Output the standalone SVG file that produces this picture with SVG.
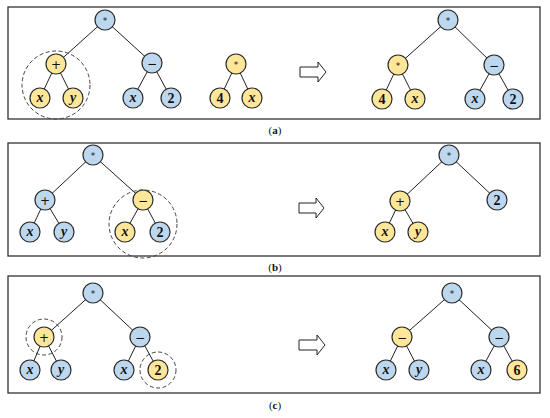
<svg xmlns="http://www.w3.org/2000/svg" width="550" height="418" viewBox="0 0 550 418">
<defs>
<style>
.box{fill:#fff;stroke:#333;stroke-width:1.3}
.e{stroke:#222;stroke-width:1;fill:none}
.b{fill:#BDD7EE;stroke:#2b2b2b;stroke-width:1.2}
.y{fill:#FFE699;stroke:#2b2b2b;stroke-width:1.2}
.d{fill:none;stroke:#444;stroke-width:1;stroke-dasharray:4 2.5}
text{font-family:"Liberation Serif","DejaVu Serif",serif;font-weight:bold;text-anchor:middle;fill:#111}
.v{font-style:italic;font-size:14px}
.n{font-size:14px}
.op{font-family:"DejaVu Sans","Liberation Sans",sans-serif;font-weight:normal;font-size:12px}
.st{font-family:"DejaVu Sans","Liberation Sans",sans-serif;font-weight:normal;font-size:9px}
.cap{font-size:11px}
.cap tspan{font-weight:normal}
.arr{fill:#fff;stroke:#222;stroke-width:1}
</style>
</defs>
<rect class="box" x="8" y="7" width="532" height="112"/>
<rect class="box" x="8" y="143" width="532" height="113"/>
<rect class="box" x="8" y="276" width="532" height="117"/>
<g id="connectors">
<path class="e" d="M105 20L56 64M105 20L152 63M56 64L40 98M56 64L73 98M152 63L133 98M152 63L171 98M236 64L220 98M236 64L252 98"/>
<path class="e" d="M448 20L398 65M448 20L494 65M398 65L382 99M398 65L415 99M494 65L475 99M494 65L513 99"/>
<path class="e" d="M93 155L45 200M93 155L143 200M45 200L30 232M45 200L64 232M143 200L125 232M143 200L160 232"/>
<path class="e" d="M449 155L400 201M449 155L497 200M400 201L385 232M400 201L418 232"/>
<path class="e" d="M93 293L44 337M93 293L140 337M44 337L30 370M44 337L61 370M140 337L124 370M140 337L158 370"/>
<path class="e" d="M452 293L402 337M452 293L499 337M402 337L386 370M402 337L419 370M499 337L481 370M499 337L517 370"/>
</g>
<g id="arrows">
<path class="arr" d="M300 67H318V62L326 72L318 82V77H300Z"/>
<path class="arr" d="M299 203H316V198L324 208L316 218V213H299Z"/>
<path class="arr" d="M299 340H317V335L325 345L317 355V350H299Z"/>
</g>
<g id="a-left">
<g id="a1"><circle class="b" cx="105" cy="20" r="10"/><text class="st" x="105" y="24">*</text></g>
<g id="a2"><circle class="y" cx="56" cy="64" r="10"/><text class="op" x="56" y="68.5">+</text></g>
<g id="a3"><circle class="y" cx="40" cy="98" r="10"/><text class="v" x="40" y="102">x</text></g>
<g id="a4"><circle class="y" cx="73" cy="98" r="10"/><text class="v" x="73" y="102">y</text></g>
<g id="a5"><circle class="b" cx="152" cy="63" r="10"/><text class="op" x="152" y="67.5">−</text></g>
<g id="a6"><circle class="b" cx="133" cy="98" r="10"/><text class="v" x="133" y="102">x</text></g>
<g id="a7"><circle class="b" cx="171" cy="98" r="10"/><text class="n" x="171" y="103">2</text></g>
<g id="a8"><circle class="y" cx="236" cy="64" r="10"/><text class="st" x="236" y="68">*</text></g>
<g id="a9"><circle class="y" cx="220" cy="98" r="10"/><text class="n" x="220" y="103">4</text></g>
<g id="a10"><circle class="y" cx="252" cy="98" r="10"/><text class="v" x="252" y="102">x</text></g>
<circle class="d" cx="56" cy="85" r="34"/>
</g>
<g id="a-right">
<g id="a11"><circle class="b" cx="448" cy="20" r="10"/><text class="st" x="448" y="24">*</text></g>
<g id="a12"><circle class="y" cx="398" cy="65" r="10"/><text class="st" x="398" y="69">*</text></g>
<g id="a13"><circle class="b" cx="494" cy="65" r="10"/><text class="op" x="494" y="69.5">−</text></g>
<g id="a14"><circle class="y" cx="382" cy="99" r="10"/><text class="n" x="382" y="104">4</text></g>
<g id="a15"><circle class="y" cx="415" cy="99" r="10"/><text class="v" x="415" y="103">x</text></g>
<g id="a16"><circle class="b" cx="475" cy="99" r="10"/><text class="v" x="475" y="103">x</text></g>
<g id="a17"><circle class="b" cx="513" cy="99" r="10"/><text class="n" x="513" y="104">2</text></g>
</g>
<g id="b-left">
<g id="b1"><circle class="b" cx="93" cy="155" r="10"/><text class="st" x="93" y="159">*</text></g>
<g id="b2"><circle class="b" cx="45" cy="200" r="10"/><text class="op" x="45" y="204.5">+</text></g>
<g id="b3"><circle class="b" cx="30" cy="232" r="10"/><text class="v" x="30" y="236">x</text></g>
<g id="b4"><circle class="b" cx="64" cy="232" r="10"/><text class="v" x="64" y="236">y</text></g>
<g id="b5"><circle class="y" cx="143" cy="200" r="10"/><text class="op" x="143" y="204.5">−</text></g>
<g id="b6"><circle class="y" cx="125" cy="232" r="10"/><text class="v" x="125" y="236">x</text></g>
<g id="b7"><circle class="b" cx="160" cy="232" r="10"/><text class="n" x="160" y="237">2</text></g>
<circle class="d" cx="143" cy="224" r="34"/>
</g>
<g id="b-right">
<g id="b8"><circle class="b" cx="449" cy="155" r="10"/><text class="st" x="449" y="159">*</text></g>
<g id="b9"><circle class="y" cx="400" cy="201" r="10"/><text class="op" x="400" y="205.5">+</text></g>
<g id="b10"><circle class="b" cx="497" cy="200" r="10"/><text class="n" x="497" y="205">2</text></g>
<g id="b11"><circle class="y" cx="385" cy="232" r="10"/><text class="v" x="385" y="236">x</text></g>
<g id="b12"><circle class="y" cx="418" cy="232" r="10"/><text class="v" x="418" y="236">y</text></g>
</g>
<g id="c-left">
<g id="c1"><circle class="b" cx="93" cy="293" r="10"/><text class="st" x="93" y="297">*</text></g>
<g id="c2"><circle class="y" cx="44" cy="337" r="10"/><text class="op" x="44" y="341.5">+</text></g>
<g id="c3"><circle class="b" cx="30" cy="370" r="10"/><text class="v" x="30" y="374">x</text></g>
<g id="c4"><circle class="b" cx="61" cy="370" r="10"/><text class="v" x="61" y="374">y</text></g>
<g id="c5"><circle class="b" cx="140" cy="337" r="10"/><text class="op" x="140" y="341.5">−</text></g>
<g id="c6"><circle class="b" cx="124" cy="370" r="10"/><text class="v" x="124" y="374">x</text></g>
<g id="c7"><circle class="y" cx="158" cy="370" r="10"/><text class="n" x="158" y="375">2</text></g>
<circle class="d" cx="44" cy="337" r="18"/>
<circle class="d" cx="158" cy="370" r="18"/>
</g>
<g id="c-right">
<g id="c8"><circle class="b" cx="452" cy="293" r="10"/><text class="st" x="452" y="297">*</text></g>
<g id="c9"><circle class="y" cx="402" cy="337" r="10"/><text class="op" x="402" y="341.5">−</text></g>
<g id="c10"><circle class="b" cx="499" cy="337" r="10"/><text class="op" x="499" y="341.5">−</text></g>
<g id="c11"><circle class="b" cx="386" cy="370" r="10"/><text class="v" x="386" y="374">x</text></g>
<g id="c12"><circle class="b" cx="419" cy="370" r="10"/><text class="v" x="419" y="374">y</text></g>
<g id="c13"><circle class="b" cx="481" cy="370" r="10"/><text class="v" x="481" y="374">x</text></g>
<g id="c14"><circle class="y" cx="517" cy="370" r="10"/><text class="n" x="517" y="375">6</text></g>
</g>
<text class="cap" x="275" y="134"><tspan>(</tspan>a<tspan>)</tspan></text>
<text class="cap" x="275" y="271"><tspan>(</tspan>b<tspan>)</tspan></text>
<text class="cap" x="275" y="409"><tspan>(</tspan>c<tspan>)</tspan></text>
</svg>
